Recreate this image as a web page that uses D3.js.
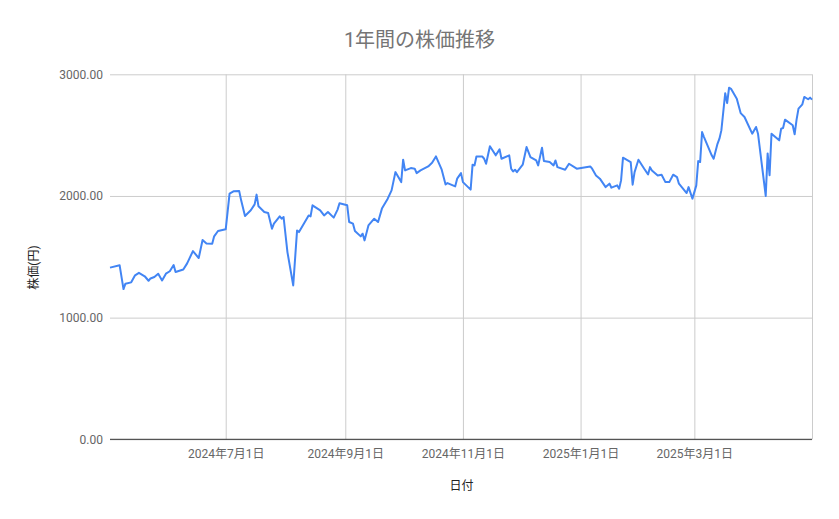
<!DOCTYPE html>
<html lang="ja">
  <head>
    <meta charset="UTF-8" />
    <title>1年間の株価推移</title>
    <style>
      * {
        margin: 0;
        padding: 0;
      }
      body {
        background: #fff;
      }
      text {
        font-family: Roboto, 'Noto Sans CJK JP', sans-serif;
      }
    </style>
  </head>
  <body>
    <script src="https://cdn.jsdelivr.net/npm/d3@7"></script>
    <script>
      // 日付と終値
      const dates = [
        '2024-05-02', '2024-05-07', '2024-05-09', '2024-05-10', '2024-05-13', '2024-05-15',
        '2024-05-17', '2024-05-20', '2024-05-22', '2024-05-23', '2024-05-25', '2024-05-27',
        '2024-05-29', '2024-05-31', '2024-06-02', '2024-06-04', '2024-06-05', '2024-06-09',
        '2024-06-11', '2024-06-14', '2024-06-17', '2024-06-19', '2024-06-21', '2024-06-24',
        '2024-06-25', '2024-06-27', '2024-07-01', '2024-07-03', '2024-07-05', '2024-07-08',
        '2024-07-09', '2024-07-11', '2024-07-14', '2024-07-16', '2024-07-17', '2024-07-18',
        '2024-07-21', '2024-07-23', '2024-07-25', '2024-07-26', '2024-07-29', '2024-07-30',
        '2024-07-31', '2024-08-02', '2024-08-05', '2024-08-07', '2024-08-08', '2024-08-13',
        '2024-08-14', '2024-08-15', '2024-08-19', '2024-08-21', '2024-08-23', '2024-08-26',
        '2024-08-28', '2024-08-29', '2024-09-02', '2024-09-03', '2024-09-05', '2024-09-06',
        '2024-09-09', '2024-09-10', '2024-09-11', '2024-09-13', '2024-09-16', '2024-09-18',
        '2024-09-20', '2024-09-23', '2024-09-25', '2024-09-27', '2024-09-30', '2024-10-01',
        '2024-10-02', '2024-10-05', '2024-10-07', '2024-10-08', '2024-10-10', '2024-10-14',
        '2024-10-16', '2024-10-18', '2024-10-21', '2024-10-23', '2024-10-24', '2024-10-28',
        '2024-10-29', '2024-10-31', '2024-11-01', '2024-11-05', '2024-11-06', '2024-11-07',
        '2024-11-08', '2024-11-11', '2024-11-12', '2024-11-13', '2024-11-15', '2024-11-18',
        '2024-11-20', '2024-11-21', '2024-11-25', '2024-11-26', '2024-11-27', '2024-11-28',
        '2024-11-29', '2024-12-02', '2024-12-04', '2024-12-06', '2024-12-09', '2024-12-10',
        '2024-12-12', '2024-12-13', '2024-12-16', '2024-12-18', '2024-12-19', '2024-12-20',
        '2024-12-24', '2024-12-26', '2024-12-30', '2025-01-06', '2025-01-07', '2025-01-09',
        '2025-01-11', '2025-01-14', '2025-01-16', '2025-01-17', '2025-01-20', '2025-01-21',
        '2025-01-22', '2025-01-23', '2025-01-27', '2025-01-28', '2025-01-29', '2025-01-31',
        '2025-02-03', '2025-02-05', '2025-02-06', '2025-02-07', '2025-02-10', '2025-02-12',
        '2025-02-14', '2025-02-16', '2025-02-18', '2025-02-20', '2025-02-21', '2025-02-25',
        '2025-02-26', '2025-02-28', '2025-03-02', '2025-03-03', '2025-03-04', '2025-03-05',
        '2025-03-06', '2025-03-10', '2025-03-11', '2025-03-13', '2025-03-14', '2025-03-15',
        '2025-03-17', '2025-03-18', '2025-03-19', '2025-03-20', '2025-03-23', '2025-03-25',
        '2025-03-27', '2025-03-31', '2025-04-02', '2025-04-03', '2025-04-07', '2025-04-08',
        '2025-04-09', '2025-04-10', '2025-04-14', '2025-04-15', '2025-04-16', '2025-04-17',
        '2025-04-21', '2025-04-22', '2025-04-23', '2025-04-24', '2025-04-26', '2025-04-27',
        '2025-04-29', '2025-04-30', '2025-05-01'
      ]
      const prices = [
        1411, 1430, 1235, 1279, 1290, 1348,
        1368, 1340, 1303, 1322, 1334, 1361,
        1306, 1361, 1381, 1432, 1375, 1395,
        1446, 1547, 1490, 1638, 1610, 1608,
        1668, 1712, 1726, 2019, 2038, 2040,
        1964, 1835, 1882, 1931, 2011, 1915,
        1868, 1860, 1731, 1772, 1832, 1813,
        1827, 1539, 1265, 1717, 1703, 1840,
        1832, 1923, 1882, 1840, 1868, 1822,
        1888, 1940, 1923, 1786, 1772, 1712,
        1668, 1690, 1635, 1758, 1813, 1786,
        1896, 1978, 2046, 2196, 2114, 2298,
        2210, 2229, 2224, 2188, 2210, 2243,
        2273, 2325, 2216, 2095, 2106, 2079,
        2142, 2188, 2114, 2052, 2257, 2251,
        2325, 2325, 2306, 2265, 2408, 2334,
        2383, 2306, 2334, 2224, 2202, 2216,
        2196, 2257, 2402, 2320, 2292, 2251,
        2397, 2287, 2279, 2251, 2292, 2237,
        2216, 2265, 2224, 2243, 2224, 2169,
        2142, 2073, 2101, 2068, 2087, 2060,
        2128, 2315, 2279, 2093, 2196, 2298,
        2224, 2177, 2237, 2210, 2169, 2175,
        2114, 2114, 2175, 2155, 2101, 2024,
        2073, 1978, 2087, 2287, 2279, 2525,
        2484, 2334, 2306, 2429, 2471, 2539,
        2845, 2763, 2890, 2881, 2800, 2681,
        2649, 2512, 2567, 2512, 2000, 2350,
        2170, 2512, 2457, 2553, 2558, 2627,
        2581, 2507, 2627, 2718, 2753, 2814,
        2795, 2808, 2792
      ]
      const yTicks = [0, 1000, 2000, 3000]
      const labelDates = ['2024-07-01', '2024-09-01', '2024-11-01', '2025-01-01', '2025-03-01']
      const gridDates = [...labelDates, '2025-05-01']
      const dateRange = ['2024-05-02', '2025-05-01']

      const parse = d3.timeParse('%Y-%m-%d')
      const data = dates.map((d, i) => ({ date: parse(d), price: prices[i] }))

      const width = 839
      const height = 519
      const margin = { top: 74.3, right: 27, bottom: 79.7, left: 110 }
      const innerW = width - margin.left - margin.right
      const innerH = height - margin.top - margin.bottom

      const svg = d3
        .select('body')
        .append('svg')
        .attr('width', width)
        .attr('height', height)

      svg.append('rect').attr('width', width).attr('height', height).attr('fill', '#fff')

      const g = svg.append('g').attr('transform', `translate(${margin.left},${margin.top})`)

      const x = d3.scaleTime().domain(dateRange.map(parse)).range([0, innerW])
      const y = d3.scaleLinear().domain([0, 3000]).range([innerH, 0])

      // 目盛り線
      const gridY = g
        .append('g')
        .call(d3.axisLeft(y).tickValues(yTicks).tickSize(-innerW).tickFormat(''))
      gridY.select('.domain').remove()
      gridY.selectAll('line').attr('stroke', '#cccccc')

      const gridX = g
        .append('g')
        .attr('transform', `translate(0,${innerH})`)
        .call(d3.axisBottom(x).tickValues(gridDates.map(parse)).tickSize(-innerH).tickFormat(''))
      gridX.select('.domain').remove()
      gridX.selectAll('line').attr('stroke', '#cccccc')

      // 軸ラベル
      const yAxis = g
        .append('g')
        .call(d3.axisLeft(y).tickValues(yTicks).tickSize(0).tickPadding(7).tickFormat(d3.format('.2f')))
      yAxis.select('.domain').remove()
      yAxis.selectAll('text').attr('fill', '#666').style('font-size', '12px')

      const fmt = d => `${d.getFullYear()}年${d.getMonth() + 1}月${d.getDate()}日`
      const xAxis = g
        .append('g')
        .attr('transform', `translate(0,${innerH})`)
        .call(d3.axisBottom(x).tickValues(labelDates.map(parse)).tickSize(0).tickPadding(10).tickFormat(fmt))
      xAxis.select('.domain').remove()
      xAxis.selectAll('text').attr('fill', '#666').style('font-size', '12px')

      // 0 の基準線
      g.append('line')
        .attr('x1', 0)
        .attr('x2', innerW)
        .attr('y1', y(0))
        .attr('y2', y(0))
        .attr('stroke', '#333')
        .attr('stroke-width', 1)

      const line = d3
        .line()
        .x(d => x(d.date))
        .y(d => y(d.price))

      g.append('path')
        .datum(data)
        .attr('d', line)
        .attr('fill', 'none')
        .attr('stroke', '#4285f4')
        .attr('stroke-width', 2)
        .attr('stroke-linejoin', 'round')

      // タイトル
      svg.append('text')
        .attr('x', 419.5)
        .attr('y', 47)
        .attr('text-anchor', 'middle')
        .attr('fill', '#757575')
        .style('font-size', '20px')
        .text('1年間の株価推移')

      svg.append('text')
        .attr('x', 461.5)
        .attr('y', 490)
        .attr('text-anchor', 'middle')
        .attr('fill', '#222')
        .style('font-size', '12px')
        .text('日付')

      svg.append('text')
        .attr('transform', 'translate(38,267.5) rotate(-90)')
        .attr('text-anchor', 'middle')
        .attr('fill', '#222')
        .style('font-size', '12px')
        .text('株価(円)')
    </script>
  </body>
</html>
